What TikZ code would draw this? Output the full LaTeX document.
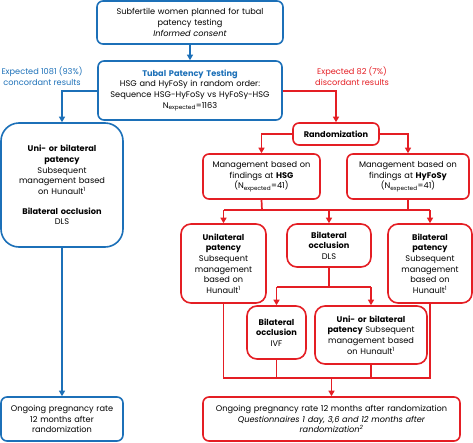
\documentclass[tikz,border=0pt]{standalone}
\usepackage{fontspec}
\setmainfont{Poppins}
\usepackage{xcolor}
\usetikzlibrary{arrows.meta,positioning,calc}
\definecolor{trialblue}{RGB}{28,112,184}
\definecolor{trialred}{RGB}{228,30,36}
\tikzset{
  bluebox/.style={draw=trialblue,line width=1.6pt,fill=white,rounded corners=6pt,align=center,
    inner xsep=2pt,inner ysep=2pt,font=\fontsize{8.2}{10.7}\selectfont},
  redbox/.style={draw=trialred,line width=1.6pt,fill=white,rounded corners=6pt,align=center,
    inner xsep=2pt,inner ysep=2pt,font=\fontsize{8.2}{10.7}\selectfont},
  bluearrow/.style={-{Triangle[length=5.5pt,width=6pt]},draw=trialblue,line width=1.6pt},
  redarrow/.style={-{Triangle[length=5.5pt,width=6pt]},draw=trialred,line width=1.6pt},
  redline/.style={draw=trialred,line width=1.7pt},
  grouplabel/.style={font=\fontsize{8.2}{10.7}\selectfont,align=center}
}

\begin{document}
\begin{tikzpicture}[x=1pt,y=-1pt]
  \useasboundingbox (0,0) rectangle (473,442);
  % screening and testing
  \node[bluebox,text width=182pt,minimum height=43pt] (screen) at (190,22.5)
    {Subfertile women planned for tubal\\patency testing\\\textit{Informed consent}};
  \node[bluebox,text width=180pt,minimum height=59pt] (testing) at (190,90.5)
    {\textcolor{trialblue}{\textbf{Tubal Patency Testing}}\\HSG and HyFoSy in random order:\\
     Sequence HSG-HyFoSy vs HyFoSy-HSG\\N\textsubscript{expected}=1163};
  \draw[bluearrow] (screen) -- (testing);
  \node[grouplabel,text=trialblue] (conclabel) at (42,76) {Expected 1081 (93\%)\\concordant results};
  \node[grouplabel,text=trialred] (disclabel) at (352,76) {Expected 82 (7\%)\\discordant results};

  % concordant arm
  \node[bluebox,rounded corners=18pt,text width=118pt,minimum height=124pt] (concmgmt) at (62,185)
    {\textbf{Uni- or bilateral}\\\textbf{patency}\\Subsequent\\management based\\on Hunault\textsuperscript{1}\\[9pt]
     \textbf{Bilateral occlusion}\\DLS};
  \node[bluebox,text width=118pt,minimum height=44pt] (concout) at (62,419)
    {Ongoing pregnancy rate\\12 months after\\randomization};
  \draw[bluearrow] (testing.west |- 0,91) -| (concmgmt.north);
  \draw[bluearrow] (concmgmt) -- (concout);

  % discordant arm
  \node[redbox,text width=82pt,minimum height=22pt] (random) at (336,134) {\textbf{Randomization}};
  \draw[redarrow] (testing.east |- 0,91) -| (random.north);
  \node[redbox,text width=113pt,minimum height=45pt] (hsgarm) at (261.5,176.5)
    {Management based on\\findings at \textbf{HSG}\\(N\textsubscript{expected}=41)};
  \node[redbox,text width=118pt,minimum height=45pt] (hyfarm) at (408,176.5)
    {Management based on\\findings at \textbf{HyFoSy}\\(N\textsubscript{expected}=41)};
  \draw[redarrow] (random.west) -| (hsgarm.north);
  \draw[redarrow] (random.east) -| (hyfarm.north);

  \node[redbox,rounded corners=10pt,text width=81pt,minimum height=79pt] (unipat) at (223.5,263.5)
    {\textbf{Unilateral}\\\textbf{patency}\\Subsequent\\management\\based on\\Hunault\textsuperscript{1}};
  \node[redbox,rounded corners=10pt,text width=80pt,minimum height=43pt] (bilocc) at (329,245.5)
    {\textbf{Bilateral}\\\textbf{occlusion}\\DLS};
  \node[redbox,rounded corners=10pt,text width=80pt,minimum height=79pt] (bilpat) at (430,263.5)
    {\textbf{Bilateral}\\\textbf{patency}\\Subsequent\\management\\based on\\Hunault\textsuperscript{1}};
  \coordinate (armjoin) at (262,210);
  \coordinate (armjoinL) at (223.5,210);
  \coordinate (armjoinR) at (430,210);
  \draw[redline] (hsgarm.south) -- (armjoin);
  \draw[redline] (hyfarm.south) -- (hyfarm.south |- armjoin);
  \draw[redline] (armjoinL) -- (armjoinR);
  \draw[redarrow] (armjoinL) -- (unipat.north);
  \draw[redarrow] (bilocc.north |- armjoin) -- (bilocc.north);
  \draw[redarrow] (armjoinR) -- (bilpat.north);

  \node[redbox,rounded corners=10pt,text width=55pt,minimum height=53pt] (ivfbox) at (276.5,332.5)
    {\textbf{Bilateral}\\\textbf{occlusion}\\IVF};
  \node[redbox,rounded corners=10pt,text width=108pt,minimum height=58pt] (secpat) at (371,335)
    {\textbf{Uni- or bilateral}\\\textbf{patency} Subsequent\\management based\\on Hunault\textsuperscript{1}};
  \coordinate (dlssplit) at (329,287);
  \draw[redline] (bilocc.south) -- (dlssplit);
  \draw[redline] (ivfbox.north |- dlssplit) -- (secpat.north |- dlssplit);
  \draw[redarrow] (ivfbox.north |- dlssplit) -- (ivfbox.north);
  \draw[redarrow] (secpat.north |- dlssplit) -- (secpat.north);

  \node[redbox,text width=253pt,minimum height=44pt] (discout) at (331.5,419)
    {Ongoing pregnancy rate 12 months after randomization\\
     \textit{Questionnaires 1 day, 3,6 and 12 months after}\\\textit{randomization\textsuperscript{2}}};
  \coordinate (outjoin) at (331.5,378);
  \draw[redline] (unipat.south) -- (unipat.south |- outjoin) -- (bilpat.south |- outjoin) -- (bilpat.south);
  \draw[redline] (ivfbox.south) -- (ivfbox.south |- outjoin);
  \draw[redline] (secpat.south) -- (secpat.south |- outjoin);
  \draw[redarrow] (outjoin) -- (discout.north);
\end{tikzpicture}
\end{document}
